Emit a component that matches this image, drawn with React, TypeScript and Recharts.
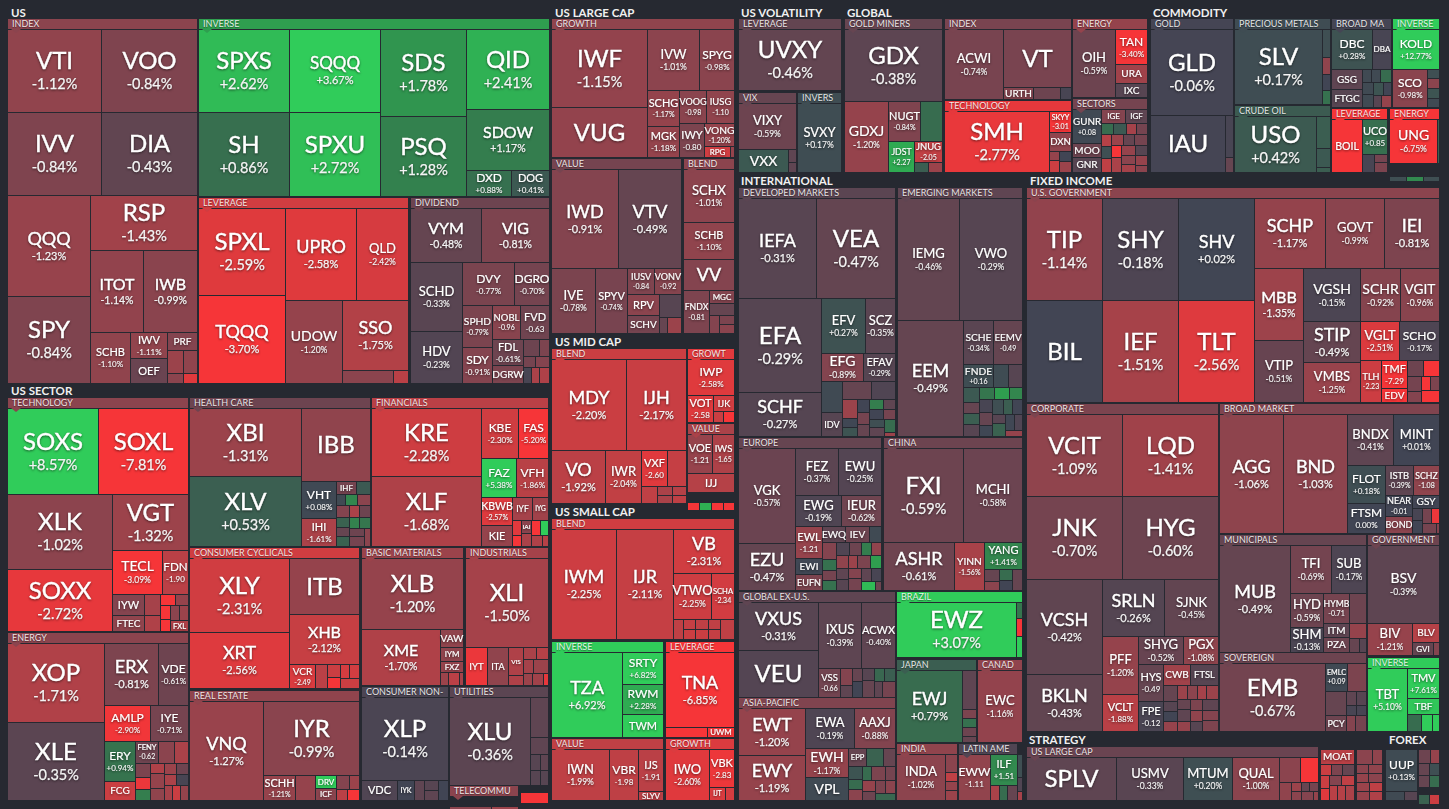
import React from "react";
import { Treemap } from "recharts";

type Cell = [string, number, number];
type Entry = Cell | Cell[];

const usIndex: Cell[] = [["VTI",7650,-1.12],["VOO",7800,-0.84],["IVV",7650,-0.84],["DIA",7800,-0.43],["QQQ",8200,-1.23],["SPY",7216,-0.84],["RSP",5778,-1.43],["ITOT",4293,-1.14],["IWB",4293,-0.99],["SCHB",2028,-1.10],["IWV",936,-1.11],["OEF",936,-0.55],["PRF",540,-0.9],["",360,-1.3],["",312,-1.1],["",154,-1.0],["",143,-2.6]];
const usInverse: Cell[] = [["SPXS",7470,2.62],["SH",7470,0.86],["SQQQ",7470,3.67],["SPXU",7470,2.72],["SDS",7395,1.78],["PSQ",6715,1.28],["QID",6557,2.41],["SDOW",4980,1.17],["DXD",1161,0.88],["DOG",1080,0.41]];
const usLeverage: Cell[] = [["SPXL",7370,-2.59],["TQQQ",7480,-3.70],["UPRO",6390,-2.58],["QLD",4590,-2.42],["UDOW",4617,-1.20],["SSO",4485,-1.75],["",648,-1.0],["",120,-1.9]];
const usDividend: Cell[] = [["VYM",3640,-0.48],["VIG",3432,-0.81],["SCHD",3400,-0.33],["HDV",2600,-0.23],["DVY",2100,-0.77],["DGRO",1470,-0.70],["SPHD",1190,-0.79],["SDY",1044,-0.91],["NOBL",890,-0.96],["FVD",924,-0.63],["FDL",754,-0.61],["DGRW",522,-0.8],["",256,-0.6],["",160,-0.8],["",130,-0.7],["",130,-0.9],["",128,-0.1],["",128,-1.6],["",136,-1.7]];
const secTech: Entry[] = [["SOXS",7560,8.57],["SOXL",7392,-7.81],["XLK",7548,-1.02],["SOXX",6324,-2.72],["VGT",4104,-1.32],["TECL",2100,-3.09],["FDN",1092,-1.90],[["IYW",660,-0.9],["FTEC",480,-1.1]],["",330,-1.5],["",240,-1.7],["",154,-3.5],["",132,-1.2],["",136,-3.6],["",108,-3.5],["",128,-1.0],["",135,-1.3],["FXL",162,-1.7]];
const secEnergy: Cell[] = [["XOP",7332,-1.71],["XLE",7332,-0.35],["ERX",3200,-0.81],["VDE",1800,-0.61],["AMLP",1610,-2.90],["IYE",1330,-0.71],["ERY",1189,0.94],["FCG",551,-2.2],["FENY",483,-0.62],["",336,-1.0],["",315,-1.6],["",208,-0.8],["",180,-2.8],["",132,1.2],["",132,-1.7],["",208,-1.2],["",160,-1.1],["",130,-1.3],["",130,-0.6],["",128,-1.6],["",128,-0.1],["",110,-1.5],["",110,-2.2],["",128,-1.2]];
const secHealth: Cell[] = [["XBI",7169,-1.31],["XLV",7383,0.53],["IBB",4757,-1.1],["VHT",1216,0.08],["IHI",960,-1.61],["IHF",240,-0.7],["",180,0.4],["",96,0.1],["",121,1.4],["",132,-1.0],["",143,-0.9],["",110,-1.6],["",130,-0.6],["",120,0.6],["",108,-0.5],["",126,0.6],["",108,1.3],["",120,1.0],["",120,-0.6],["",135,-0.7],["",144,-1.0]];
const secFin: Cell[] = [["KRE",7169,-2.28],["XLF",7383,-1.68],["KBE",1776,-2.30],["FAS",1440,-5.20],["FAZ",1295,5.38],["VFH",1184,-1.86],["KBWB",841,-2.57],["KIE",609,-1.2],["IYF",440,-1.5],["IYG",352,-1.4],["",126,-2.6],["",108,-3.2],["IAI",126,-1.0],["",120,-1.6],["",132,-3.4],["",117,3.2],["",120,-1.7],["",55,-1.8]];
const secCyc: Cell[] = [["XLY",7252,-2.31],["XRT",5488,-2.56],["ITB",3850,-1.2],["XHB",3430,-2.12],["VCR",600,-2.49],["",288,-1.9],["",169,-2.2],["",130,-3.1],["",128,-2.4],["",128,-2.3],["",119,-2.2]];
const secMat: Cell[] = [["XLB",7070,-1.20],["XME",4332,-1.70],["VAW",400,-1.1],["IYM",325,-1.1],["FXZ",238,-1.2],["",98,-1.3],["",136,-1.9],["",56,-1.5]];
const secInd: Cell[] = [["XLI",7134,-1.50],["IYT",800,-2.8],["ITA",760,-1.1],["VIS",400,-1.7],["",143,-1.7],["",156,-1.6],["",121,-1.8],["",132,-1.5],["",208,-1.3],["",104,-1.3],["",130,-1.4],["",65,-2.7]];
const secRealEstate: Cell[] = [["VNQ",7128,-1.27],["IYR",6912,-0.99],["SCHH",780,-1.21],["",494,-1.2],["DRV",260,3.0],["ICF",240,-1.0],["",182,-0.9],["",130,-1.3],["",120,-1.9],["",168,-3.6]];
const secStaples: Cell[] = [["XLP",7052,-0.14],["VDC",700,-0.2],["IYK",340,0.0],["",200,-0.4],["",140,-0.3],["",140,-0.4],["",160,0.0]];
const secUtil: Cell[] = [["XLU",6952,-0.36],["",703,-0.4],["",304,-0.4],["",150,-0.3],["",135,-0.4],["",144,-0.3],["",144,-0.3]];
const secTelecom: Cell[] = [["",170,-1.0],["",110,-1.3]];
const secTelecomTail: Cell[] = [["",270,-3.5]];
const lcGrowth: Cell[] = [["IWF",7144,-1.15],["VUG",4606,-1.15],["IVW",3016,-1.01],["SPYG",2030,-0.98],["SCHG",1116,-1.17],["MGK",961,-1.18],["VOOG",864,-0.98],["IUSG",864,-1.10],["IWY",816,-0.80],["VONG",660,-1.20],["RPG",275,-2.3],["",55,-1.2]];
const lcValue: Cell[] = [["IWD",6402,-0.91],["VTV",6111,-0.49],["IVE",2795,-0.78],["SPYV",2015,-0.74],["IUSV",676,-0.84],["VONV",702,-0.92],["RPV",640,-1.0],["SCHV",576,-0.7],["",480,-0.3],["",130,-0.5],["",130,-1.3]];
const lcBlend: Cell[] = [["SCHX",2550,-1.01],["SCHB",1750,-1.10],["VV",1500,-0.9],["FNDX",1032,-0.81],["MGC",300,-0.9],["",285,-0.5],["",171,-0.9],["",120,-0.8],["",120,-1.0]];
const mcBlend: Cell[] = [["MDY",6497,-2.20],["IJH",5251,-2.17],["VO",2756,-1.92],["IWR",1802,-2.04],["VXF",900,-2.60],["",640,-2.1],["",252,-2.0],["",126,-1.6],["",112,-1.6],["",126,-1.8],["",108,-2.0]];
const mcGrowth: Cell[] = [["IWP",1564,-2.58],["VOT",650,-2.58],["IJK",300,-2.3],["",100,-2.2],["",100,-3.4]];
const mcValue: Cell[] = [["VOE",912,-1.21],["IWS",798,-1.65],["IJJ",828,-1.8]];
const mcTail: Cell[] = [["",100,-3.4],["",100,2.4],["",100,-3.1],["",100,-3.5]];
const scBlend: Cell[] = [["IWM",6930,-2.25],["IJR",6160,-2.11],["VB",2623,-2.31],["VTWO",1702,-2.25],["SCHA",1058,-2.34],["",200,-2.0],["",120,-2.1],["",120,-2.2],["",130,-2.0],["",130,-2.2],["",120,-2.0],["",120,-2.1],["",200,-2.0]];
const scInverse: Cell[] = [["TZA",5950,6.92],["SRTY",1271,6.82],["RWM",1189,2.28],["TWM",943,4.5]];
const scLeverage: Cell[] = [["TNA",4964,-6.85],["",400,-3.6],["UWM",270,-3.8]];
const scValue: Cell[] = [["IWN",2856,-1.99],["VBR",1428,-1.98],["IJS",1014,-1.91],["SLYV",260,-1.9]];
const scGrowth: Cell[] = [["IWO",2142,-2.60],["VBK",900,-2.83],["IJT",192,-2.5],["",108,-2.4]];
const volLeverage: Cell[] = [["UVXY",6120,-0.46]];
const volVix: Cell[] = [["VIXY",2508,-0.59],["VXX",1081,0.4],["",99,-0.4],["",99,-0.4]];
const volInverse: Cell[] = [["SVXY",2900,0.17]];
const glMiners: Cell[] = [["GDX",6693,-0.38],["GDXJ",2982,-1.20],["NUGT",1216,-0.84],["",836,0.8],["JDST",775,2.27],["JNUG",560,-2.05],["",132,0.5],["",165,-1.3]];
const glIndex: Cell[] = [["ACWI",3933,-0.74],["VT",3752,-0.75],["URTH",348,-0.9],["",312,-0.6],["",108,-0.1]];
const glTech: Cell[] = [["SMH",6222,-2.77],["SKYY",440,-3.01],["DXN",396,-1.1],["",90,-1.2],["",108,-2.2],["",120,0.0],["",144,-1.3]];
const glEnergy: Cell[] = [["OIH",2747,-0.59],["TAN",1056,-3.40],["URA",576,-1.4],["IXC",416,-0.3]];
const glSectors: Cell[] = [["GUNR",858,0.08],["MOO",364,-0.6],["GNR",364,-0.3],["IGE",300,-0.9],["IGF",255,-0.4],["",120,0.8],["",130,0.4],["",100,-1.5],["",100,-0.7],["",110,-1.8],["",110,0.2],["",110,-2.0],["",120,-1.3],["",110,-0.5],["",108,-0.7],["",108,-3.5],["",120,-1.6],["",120,-1.2],["",108,-0.3],["",108,-1.0],["",105,-1.5],["",105,-1.2],["",135,-1.0]];
const cmGold: Cell[] = [["GLD",6806,-0.06],["IAU",4104,-0.05],["",320,-0.1],["",136,-0.5]];
const cmPrecious: Cell[] = [["SLV",6364,0.17],["",216,0.2],["",128,-1.1],["",120,0.0],["",96,0.9]];
const cmCrude: Cell[] = [["USO",4480,0.42],["",435,0.5],["",255,0.4],["",105,0.5]];
const cmBroad: Cell[] = [["DBC",1443,0.28],["DBA",703,-0.1],["GSG",551,-0.4],["FTGC",493,-0.3],["",108,0.1],["",108,0.1],["",108,0.8],["",117,0.1],["",117,0.1],["",117,0.3],["",90,0.0],["",90,-0.3],["",90,-1.2]];
const cmInverse: Cell[] = [["KOLD",1702,12.77],["SCO",1216,-0.98],["",96,0.2],["",108,-1.0],["",108,0.3],["",96,0.1]];
const cmLeverage: Cell[] = [["BOIL",1566,-3.8],["UCO",825,0.85],["",198,-0.1],["",104,-0.7],["",130,-0.8]];
const cmEnergy: Cell[] = [["UNG",2115,-6.75],["",90,0.6]];
const cmTail: Cell[] = [["",100,0.2],["",100,1.5],["",100,0.2]];
const inDeveloped: Cell[] = [["IEFA",7566,-0.31],["VEA",7566,-0.47],["EFA",7520,-0.29],["SCHF",3520,-0.27],["EFV",2332,0.27],["SCZ",1643,-0.35],["EFG",1134,-0.89],["EFAV",891,-0.29],["",640,0.1],["IDV",500,-0.3],["",506,-0.5],["",437,-0.2],["",276,-1.3],["",132,0.05],["",132,0.3],["",154,0.0],["",143,-0.7],["",132,-0.5],["",132,1.2],["",132,-0.4],["",135,0.0],["",120,-0.7],["",120,0.2],["",120,-0.4],["",140,0.8],["",56,-1.3]];
const inEmerging: Cell[] = [["IEMG",7400,-0.46],["VWO",7400,-0.29],["EEM",7500,-0.49],["SCHE",1290,-0.34],["EEMV",1250,-0.49],["FNDE",670,0.16],["",345,0.15],["",277,-0.3],["",229,0.4],["",176,-0.5],["",176,0.5],["",176,-0.3],["",176,1.0],["",172,2.0],["",157,1.4],["",169,-0.1],["",169,-0.5],["",143,0.05],["",157,0.2],["",133,0.5],["",141,0.0],["",114,-0.3],["",157,0.6],["",133,0.05],["",139,-0.2],["",92,-1.2]];
const inEurope: Cell[] = [["VGK",5130,-0.57],["EZU",2538,-0.47],["FEZ",1936,-0.37],["EWU",1892,-0.25],["EWG",1363,-0.19],["IEUR",1189,-0.62],["EWL",825,-1.21],["EWI",400,0.05],["EUFN",400,-0.8],["EWQ",345,-0.4],["IEV",360,-0.6],["",195,0.1],["",221,-0.9],["",144,0.9],["",132,-0.7],["",132,0.9],["",156,-0.2],["",144,-0.6],["",121,1.2],["",121,-1.1],["",143,-1.1],["",130,-0.4],["",130,-0.3],["",117,-1.3],["",156,-0.8],["",121,2.0],["",121,-0.9],["",143,-0.7],["",120,-0.4],["",132,-0.1],["",120,2.6],["",117,-0.6]];
const inChina: Cell[] = [["FXI",7426,-0.59],["MCHI",5546,-0.58],["ASHR",3360,-0.61],["YINN",1440,-1.56],["YANG",1026,1.41],["",180,-0.5],["",130,-1.0],["",140,0.8],["",130,0.0],["",140,-0.5]];
const inExUs: Cell[] = [["VXUS",3666,-0.31],["VEU",3588,-0.25],["IXUS",2700,-0.39],["ACWX",2150,-0.40],["VSS",609,-0.66],["",196,-0.9],["",126,-0.4],["",126,-0.5],["",140,0.0],["",140,-0.3],["",196,-0.5],["",126,0.7],["",126,0.5],["",126,-0.4],["",168,-0.7]];
const inAsia: Cell[] = [["EWT",2990,-1.20],["EWY",2860,-1.19],["EWA",1862,-0.19],["AAXJ",1558,-0.88],["EWH",1176,-1.17],["VPL",924,0.1],["EPP",306,-0.5],["",289,0.6],["",187,-0.5],["",176,0.3],["",132,0.8],["",132,-1.0],["",121,0.8],["",187,-0.8],["",132,-0.7],["",132,-1.2],["",121,-0.6],["",120,-0.8],["",120,-1.0],["",110,0.7]];
const inBrazil: Cell[] = [["EWZ",6490,3.07],["",96,1.0],["",108,-3.0],["",114,3.0]];
const inJapan: Cell[] = [["EWJ",4599,0.79],["",525,-0.4],["",120,-0.8],["",120,0.9],["",120,-0.6],["",120,-0.5]];
const inCanada: Cell[] = [["EWC",3212,-1.16]];
const inIndia: Cell[] = [["INDA",2116,-1.02],["",208,-1.0],["",104,-2.0],["",104,-1.2],["",104,-1.3]];
const inLatam: Cell[] = [["EWW",1426,-1.11],["ILF",810,1.51],["",126,-1.6],["",112,0.8],["",126,-0.5]];
const inTail: Cell[] = [["",100,0.2],["",60,-0.2],["",40,-1.5]];
const fiGov: Cell[] = [["TIP",7575,-1.14],["BIL",7575,-0.02],["SHY",7575,-0.18],["IEF",7575,-1.51],["SHV",7575,0.02],["TLT",7575,-2.56],["SCHP",4828,-1.17],["GOVT",4012,-0.99],["IEI",3672,-0.81],["MBB",3456,-1.35],["VTIP",2928,-0.51],["VGSH",2912,-0.15],["STIP",2296,-0.49],["VMBS",2240,-1.25],["SCHR",2080,-0.92],["VGIT",2028,-0.96],["VGLT",1482,-2.51],["SCHO",1520,-0.17],["TLH",861,-2.23],["TMF",702,-7.29],["EDV",378,-3.6],["",255,-0.6],["",238,-3.6],["",210,-0.7],["",135,-0.9],["",120,-3.5],["",130,-0.8],["",52,-3.3]];
const fiCorp: Cell[] = [["VCIT",7600,-1.09],["LQD",7680,-1.41],["JNK",7695,-0.70],["HYG",7776,-0.60],["VCSH",6956,-0.42],["BKLN",4292,-0.43],["SRLN",3416,-0.26],["SJNK",3024,-0.45],["PFF",2030,-1.20],["VCLT",1295,-1.88],["SHYG",1215,-0.52],["PGX",945,-1.08],["HYS",888,-0.49],["FPE",720,-0.12],["CWB",540,-1.4],["FTSL",560,-0.3],["",216,-0.5],["",140,-0.3],["",130,0.0],["",140,-1.2],["",132,-1.3],["",135,-1.0],["",126,-1.5],["",144,-1.3],["",132,-0.5],["",154,-0.4],["",126,-1.2],["",126,-0.8],["",168,-0.4],["",132,-1.1],["",121,-0.3],["",154,-0.9],["",33,-0.8]];
const fiBroad: Cell[] = [["AGG",7378,-1.06],["BND",7378,-1.03],["BNDX",2303,-0.41],["MINT",2254,0.01],["FLOT",1404,0.18],["FTSM",1080,0.0],["ISTB",812,-0.39],["SCHZ",756,-1.08],["NEAR",546,-0.01],["BOND",442,-1.0],["GSY",330,-0.02],["",120,-0.1],["",132,0.0],["",126,-0.7],["",126,-2.8],["",132,-0.7],["",126,-0.9],["",36,-0.3]];
const fiMuni: Cell[] = [["MUB",7276,-0.49],["TFI",1886,-0.69],["SUB",1610,-0.17],["HYD",1088,-0.59],["SHM",800,-0.13],["HYMB",754,-0.71],["",493,-0.6],["ITM",350,-0.4],["PZA",375,-0.6],["",252,-1.2],["",135,-0.5],["",120,-0.3]];
const fiGovt2: Cell[] = [["BSV",5396,-0.39],["BIV",1386,-1.21],["BLV",486,-1.8],["GVI",266,-0.5],["",98,-0.9]];
const fiSovereign: Cell[] = [["EMB",6936,-0.67],["EMLC",598,0.09],["",494,-0.8],["",483,-0.5],["PCY",315,-0.6],["",130,-0.4],["",130,-0.3],["",100,-0.1],["",100,-0.1],["",135,-0.9],["",165,-0.7]];
const fiInverse: Cell[] = [["TBT",2394,5.10],["TMV",924,7.61],["TBF",495,2.9],["",234,0.8],["",180,3.6],["",108,3.4]];
const stLarge: Cell[] = [["SPLV",3784,-0.4],["USMV",2838,-0.33],["MTUM",2064,0.20],["QUAL",1978,-1.00],["",506,-1.0],["",437,-3.6],["",216,-1.1],["",90,-1.3],["",81,-1.0],["",72,-0.5],["",80,-0.7],["",104,-0.9],["",32,-1.2]];
const stQuality: Cell[] = [["MOAT",462,-1.9],["",110,-2.2],["",110,-0.8],["",121,-0.5],["",100,-2.2],["",100,-2.6],["",110,-0.9],["",117,-2.0],["",104,-1.9],["",104,-1.8],["",91,-1.6]];
const stOther: Cell[] = [["",210,-1.0],["",126,-1.1],["",96,-1.0],["",104,-1.1],["",96,-1.2],["",104,-1.0],["",96,-1.3],["",104,-1.2],["",104,-2.0],["",96,-1.7]];
const fxDollar: Cell[] = [["UUP",1209,0.13],["",153,0.1],["",108,-0.3]];
const fxMajors: Cell[] = [["",143,-0.6],["",117,-1.2],["",121,-0.5],["",99,0.2],["",121,-0.5],["",99,0.8]];
const fxTail: Cell[] = [["",80,0.6],["",80,-2.2]];

const noPct = new Set("OEF PRF IBB VUG VV RPV SCHV RPG MGC IJK IJJ VXX URTH VT IAU DBA GSG FTGC BOIL IGE IGF MOO GNR URA IXC DXN TBF TWM UWM IJT SLYV FCG VDC IYK IHF KIE IYF IYG IAI ITB VAW IYM FXZ IYT ITA VIS DRV ICF IYW FTEC FXL IDV EWQ IEV EWI EUFN VEU EPP VPL BIL SPLV MOAT BOND GSY ITM PZA CWB FTSL GVI BLV PCY DGRW EDV".split(" "));
const barePct = new Set("NOBL FVD FDN VCR FENY VOOG IUSG IWY IUSV VONV FNDX VXF VOT VOE IWS VBR IJS VBK SCHA JDST JNUG SKYY GUNR UCO EEMV FNDE EWL VSS EWW ILF TMF TLH HYS FPE NEAR SCHZ HYMB EMLC".split(" "));
const sizeOverrides: Record<string, number> = { QQQ:18, SQQQ:17, IEFA:18, IEMG:13, VWO:13, VNQ:18, EEM:18, UDOW:14, QLD:13, IBB:24, ITB:24, VUG:24, VEU:24, SPLV:24, BIL:24, SHV:18, VGK:13, MCHI:13, SCHF:18, USMV:13, MTUM:13, QUAL:13, MUB:18, EWJ:18, XME:16, XHB:16, IYR:24, IWD:18, VTV:18, IWM:18, IJR:18, MDY:18, IJH:18, GDXJ:14, ACWI:13, OIH:13, TZA:18, TNA:18, IWN:13, IWO:13, TBT:13, SRLN:18, SJNK:13, BSV:14, AGG:18, BND:18, EWT:18, EWY:18, VXUS:18, IXUS:13, ACWX:11, VCSH:18, BKLN:18, SCHP:18, GOVT:13, IEI:18, VTIP:13, STIP:18, VMBS:13, VGLT:13, SSO:18, UPRO:18, TQQQ:18, SDOW:16, ERX:18, VGT:24, GLD:24, IAU:24, VT:24, VXX:14, UVXY:24, SVXY:13, VIXY:13, EWC:13, INDA:13, EWZ:24, SCHD:13, HDV:13, VYM:16, VIG:16, DVY:12, IVW:13, SPYG:12, IWF:24, SCHX:13, SCHB:11, VV:18, IVE:13, SPYV:13, VO:18, IWR:13, VB:18, VTWO:13, ASHR:18, EZU:18, EWG:13, IEUR:13, FEZ:13, EWU:13, EFV:13, SCZ:13, EFG:14, EFAV:13, EWA:13, AAXJ:13, EWH:14, VPL:14, TIP:24, USO:24, SLV:24, GDX:24, SMH:24, MINT:13, BNDX:13, TFI:13, SUB:13, HYD:13, SHM:13, FLOT:12, FTSM:12, BIV:13, PFF:13, SHYG:13, PGX:13, VCLT:11 };

const Stops: [number, number[]][] = [[-3,[246,53,56]],[-2,[191,64,69]],[-1,[139,68,78]],[0,[65,69,84]],[1,[53,118,78]],[2,[47,158,79]],[3,[48,204,90]]];
function heat(p: number): string {
  const v = Math.max(-3, Math.min(3, p));
  for (let i = 0; i < Stops.length - 1; i++) {
    const [a, ca] = Stops[i];
    const [b, cb] = Stops[i + 1];
    if (v <= b) {
      const t = (v - a) / (b - a);
      return `rgb(${ca.map((c, k) => Math.round(c + (cb[k] - c) * t)).join(",")})`;
    }
  }
  return "rgb(48,204,90)";
}

function fontFor(name: string, w: number, h: number): number {
  const area = w * h;
  let f = sizeOverrides[name];
  if (!f) f = area >= 5500 ? 24 : area >= 4500 ? 18 : area >= 3000 ? 16 : area >= 1800 ? 14 : area >= 1000 ? 12 : area >= 600 ? 11 : area >= 300 ? 10 : 8;
  const fit = (w - 2) / (name.length * 0.66);
  return Math.max(6.5, Math.min(f, fit));
}
function pctFont(f: number): number {
  return f >= 22 ? 14.5 : f >= 17 ? 11 : f >= 15 ? 10.5 : f >= 13 ? 8.5 : f >= 11 ? 8 : 7;
}
function pctText(name: string, p: number): string {
  const s = (p > 0 ? "+" : "") + p.toFixed(2);
  return barePct.has(name) ? s : s + "%";
}

function CellShape(props: any) {
  const { x, y, width, height, name, pct, children } = props;
  if (children && children.length) return null;
  if (pct === undefined) return null;
  const w = Math.max(width - 1, 0);
  const h = Math.max(height - 1, 0);
  const cx = x + w / 2;
  const cy = y + h / 2;
  const f = name ? fontFor(name, w, h) : 0;
  const showPct = name && !noPct.has(name) && h > f * 1.6;
  const pf = pctFont(f);
  const total = showPct ? f + pf + 1 : f;
  const lift = showPct ? f * 0.08 : 0;
  return (
    <g>
      <rect x={x} y={y} width={w} height={h} fill={heat(pct)} />
      {name ? (
        <g style={{ filter: "drop-shadow(0 1px 1px rgba(0,0,0,0.5))" }} fill="#fff" textAnchor="middle" fontFamily="Lato, sans-serif">
          <text x={cx} y={cy - total / 2 + f * 0.84 - lift} fontSize={f} stroke="#fff" strokeWidth={f >= 16 ? 0.4 : 0.2}>{name}</text>
          {showPct ? <text x={cx} y={cy + total / 2 - pf * 0.12} fontSize={pf} stroke="#f4f4f4" strokeWidth={pf >= 10 ? 0.25 : 0.12} fill="#f4f4f4">{pctText(name, pct)}</text> : null}
        </g>
      ) : null}
    </g>
  );
}
const renderCell = (p: any) => <CellShape {...p} />;

type Panel = [string, number, number, number, number, number, Entry[]];
const panels: Panel[] = [
  ["INDEX",8,19,198,384,-1.0,usIndex],
  ["INVERSE",199,19,550,197,2.0,usInverse],
  ["LEVERAGE",199,198,409,384,-2.3,usLeverage],
  ["DIVIDEND",411,198,550,384,-0.6,usDividend],
  ["TECHNOLOGY",8,398,189,632,-1.0,secTech],
  ["ENERGY",8,633,189,801,-1.0,secEnergy],
  ["HEALTH CARE",190,398,371,547,-0.6,secHealth],
  ["FINANCIALS",372,398,549,547,-1.9,secFin],
  ["CONSUMER CYCLICALS",190,548,360,689,-2.3,secCyc],
  ["BASIC MATERIALS",362,548,464,686,-1.3,secMat],
  ["INDUSTRIALS",466,548,549,686,-1.5,secInd],
  ["REAL ESTATE",190,691,360,801,-1.1,secRealEstate],
  ["CONSUMER NON-",362,687,449,801,-0.15,secStaples],
  ["UTILITIES",450,687,549,786,-0.35,secUtil],
  ["TELECOMMU",450,786,519,801,-1.0,secTelecom],
  ["",521,790,549,801,-3.5,secTelecomTail],
  ["GROWTH",552,19,735,158,-1.1,lcGrowth],
  ["VALUE",552,159,682,334,-0.7,lcValue],
  ["BLEND",684,159,735,334,-1.0,lcBlend],
  ["BLEND",552,349,687,504,-2.2,mcBlend],
  ["GROWT",688,349,735,423,-2.6,mcGrowth],
  ["VALUE",688,424,735,493,-1.6,mcValue],
  ["",688,497,735,505,-3,mcTail],
  ["BLEND",552,519,735,640,-2.3,scBlend],
  ["INVERSE",552,642,664,738,5,scInverse],
  ["LEVERAGE",666,642,735,738,-6,scLeverage],
  ["VALUE",552,739,664,801,-2.0,scValue],
  ["GROWTH",666,739,735,801,-2.5,scGrowth],
  ["LEVERAGE",739,19,842,91,-0.46,volLeverage],
  ["VIX",739,93,797,173,-0.5,volVix],
  ["INVERS",798,93,842,173,0.17,volInverse],
  ["GOLD MINERS",845,19,943,173,-0.5,glMiners],
  ["INDEX",945,19,1072,100,-0.75,glIndex],
  ["TECHNOLOGY",945,101,1072,173,-2.7,glTech],
  ["ENERGY",1073,19,1148,98,-1.2,glEnergy],
  ["SECTORS",1073,99,1148,173,-0.7,glSectors],
  ["GOLD",1151,19,1234,173,-0.05,cmGold],
  ["PRECIOUS METALS",1235,19,1331,105,0.15,cmPrecious],
  ["CRUDE OIL",1235,106,1331,173,0.45,cmCrude],
  ["BROAD MA",1332,19,1392,108,-0.05,cmBroad],
  ["INVERSE",1393,19,1440,108,3.5,cmInverse],
  ["LEVERAGE",1332,109,1388,173,-3.3,cmLeverage],
  ["ENERGY",1390,109,1440,164,-3.5,cmEnergy],
  ["",1390,168,1440,173,0.3,cmTail],
  ["DEVELOPED MARKETS",739,188,896,437,-0.35,inDeveloped],
  ["EMERGING MARKETS",898,188,1023,437,-0.4,inEmerging],
  ["EUROPE",739,438,882,591,-0.5,inEurope],
  ["CHINA",884,438,1023,591,-0.6,inChina],
  ["GLOBAL EX-U.S.",739,592,896,698,-0.4,inExUs],
  ["BRAZIL",897,592,1023,658,3.1,inBrazil],
  ["ASIA-PACIFIC",739,698,896,801,-0.85,inAsia],
  ["JAPAN",897,660,977,743,0.5,inJapan],
  ["CANAD",978,660,1023,743,-1.1,inCanada],
  ["INDIA",897,744,958,801,-1.1,inIndia],
  ["LATIN AME",959,744,1018,801,-0.2,inLatam],
  ["",1018,755,1023,801,0.2,inTail],
  ["U.S. GOVERNMENT",1027,188,1440,403,-1.0,fiGov],
  ["CORPORATE",1027,404,1219,732,-0.8,fiCorp],
  ["BROAD MARKET",1220,404,1440,534,-0.85,fiBroad],
  ["MUNICIPALS",1220,535,1367,653,-0.5,fiMuni],
  ["GOVERNMENT",1368,535,1440,656,-0.6,fiGovt2],
  ["SOVEREIGN",1220,653,1367,732,-0.6,fiSovereign],
  ["INVERSE",1368,658,1440,732,4.5,fiInverse],
  ["US LARGE CAP",1027,747,1319,801,-0.55,stLarge],
  ["",1321,750,1355,801,-1.7,stQuality],
  ["",1357,750,1383,801,-1.2,stOther],
  ["",1386,750,1418,801,0.1,fxDollar],
  ["",1419,750,1440,788,-0.2,fxMajors],
  ["",1419,791,1440,801,0,fxTail],
];

const groupTitles: [string, number, number][] = [
  ["US",11,7],["US LARGE CAP",555,7],["US VOLATILITY",741,7],["GLOBAL",847,7],["COMMODITY",1153,7],
  ["US SECTOR",11,385],["US MID CAP",555,336],["US SMALL CAP",555,506],
  ["INTERNATIONAL",741,175],["FIXED INCOME",1030,175],["STRATEGY",1029,734],["FOREX",1389,734],
];

const HEADER = 11;

const toNode = (e: Entry): any =>
  Array.isArray(e[0])
    ? { name: "", children: (e as Cell[]).map(toNode) }
    : { name: (e as Cell)[0], value: (e as Cell)[1], pct: (e as Cell)[2] };

function PanelView({ panel }: { panel: Panel }) {
  const [title, x0, y0, x1, y1, headPct, cells] = panel;
  const head = title ? HEADER : 0;
  const data = cells.map(toNode);
  const w = x1 - x0;
  const h = y1 - y0 - head;
  return (
    <div style={{ position: "absolute", left: x0, top: y0, width: w, height: y1 - y0 }}>
      {title ? (
        <div style={{ position: "absolute", left: 0, top: 0, width: w - 1, height: HEADER - 1, background: heat(headPct), color: "rgba(255,255,255,0.88)", fontSize: 9, lineHeight: "10px", overflow: "hidden", whiteSpace: "nowrap", textIndent: 4, fontFamily: "Lato, sans-serif", textShadow: "0 1px 1px rgba(0,0,0,0.4)" }}>{title}</div>
      ) : null}
      <div style={{ position: "absolute", left: 0, top: head, width: w, height: h }}>
        <Treemap width={w} height={h} data={data} dataKey="value" nameKey="name" aspectRatio={1} type="flat" isAnimationActive={false} isUpdateAnimationActive={false} content={renderCell} />
      </div>
      {title ? (
        <div style={{ position: "absolute", left: 3, top: HEADER - 1, width: 0, height: 0, borderLeft: "5px solid transparent", borderRight: "5px solid transparent", borderTop: `4px solid ${heat(headPct)}` }} />
      ) : null}
    </div>
  );
}

export default function App() {
  return (
    <div style={{ position: "absolute", left: 0, top: 0, width: 1449, height: 809, background: "#262931", overflow: "hidden" }}>
      {groupTitles.map(([t, x, y]) => (
        <div key={t} style={{ position: "absolute", left: x, top: y, color: "#f0f0f0", fontSize: 11.5, lineHeight: "12px", fontWeight: 700, fontFamily: "Lato, sans-serif", whiteSpace: "nowrap" }}>{t}</div>
      ))}
      {panels.map((p, i) => <PanelView key={i} panel={p} />)}
    </div>
  );
}
